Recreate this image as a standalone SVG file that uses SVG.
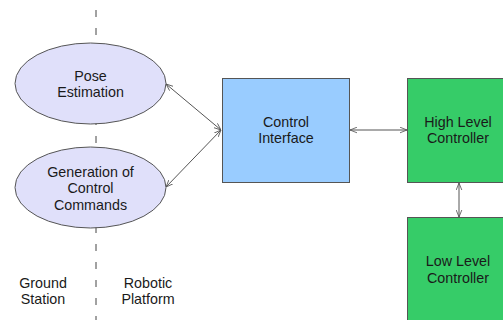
<svg xmlns="http://www.w3.org/2000/svg" width="503" height="320" viewBox="0 0 503 320">
  <style>
    .lbl { font-family: "Liberation Sans", Arial, sans-serif; font-size: 14.3px; fill: #1a1a1a; text-anchor: middle; }
    .ell { fill: #e0e0fa; stroke: #555; stroke-width: 1; }
    .ci { fill: #99ccff; stroke: #555; stroke-width: 1; }
    .ctl { fill: #36cc68; stroke: #555; stroke-width: 1; }
    .conn { stroke: #555; stroke-width: 1; fill: none; marker-start: url(#arr); marker-end: url(#arr); }
  </style>
  <defs>
    <marker id="arr" viewBox="0 0 10 10" refX="10" refY="5" markerWidth="7" markerHeight="7" markerUnits="userSpaceOnUse" orient="auto-start-reverse">
      <path d="M0,1 L10,5 L0,9" fill="none" stroke="#555" stroke-width="1.2"/>
    </marker>
  </defs>
  <rect width="503" height="320" fill="#ffffff"/>

  <!-- ground / platform divider -->
  <line x1="96" y1="10" x2="96" y2="320" stroke="#444" stroke-width="1" stroke-dasharray="7 11"/>

  <g id="connectors">
    <line class="conn" x1="221" y1="130" x2="166" y2="84"/>
    <line class="conn" x1="221" y1="130" x2="166" y2="187"/>
    <line class="conn" x1="350" y1="130" x2="407" y2="130"/>
    <line class="conn" x1="459" y1="183" x2="459" y2="217"/>
  </g>

  <g id="pose-estimation">
    <ellipse class="ell" cx="90.5" cy="83.5" rx="75.5" ry="40.5"/>
    <text class="lbl" x="90.5" y="81">Pose</text>
    <text class="lbl" x="90.5" y="97">Estimation</text>
  </g>

  <g id="generation-of-control-commands">
    <ellipse class="ell" cx="90.5" cy="187.5" rx="75.5" ry="40.5"/>
    <text class="lbl" x="90.5" y="176.5">Generation of</text>
    <text class="lbl" x="90.5" y="193">Control</text>
    <text class="lbl" x="90.5" y="209.5">Commands</text>
  </g>

  <g id="control-interface">
    <rect class="ci" x="222.5" y="78.5" width="127" height="104"/>
    <text class="lbl" x="286" y="126.5">Control</text>
    <text class="lbl" x="286" y="143">Interface</text>
  </g>

  <g id="high-level-controller">
    <rect class="ctl" x="407.5" y="78.5" width="103" height="104"/>
    <text class="lbl" x="458" y="126.5">High Level</text>
    <text class="lbl" x="458" y="143">Controller</text>
  </g>

  <g id="low-level-controller">
    <rect class="ctl" x="407.5" y="217.5" width="103" height="104"/>
    <text class="lbl" x="458" y="265.5">Low Level</text>
    <text class="lbl" x="458" y="282.5">Controller</text>
  </g>

  <g id="ground-station">
    <text class="lbl" x="43" y="288">Ground</text>
    <text class="lbl" x="43" y="303.5">Station</text>
  </g>

  <g id="robotic-platform">
    <text class="lbl" x="148" y="288">Robotic</text>
    <text class="lbl" x="148" y="303.5">Platform</text>
  </g>
</svg>
